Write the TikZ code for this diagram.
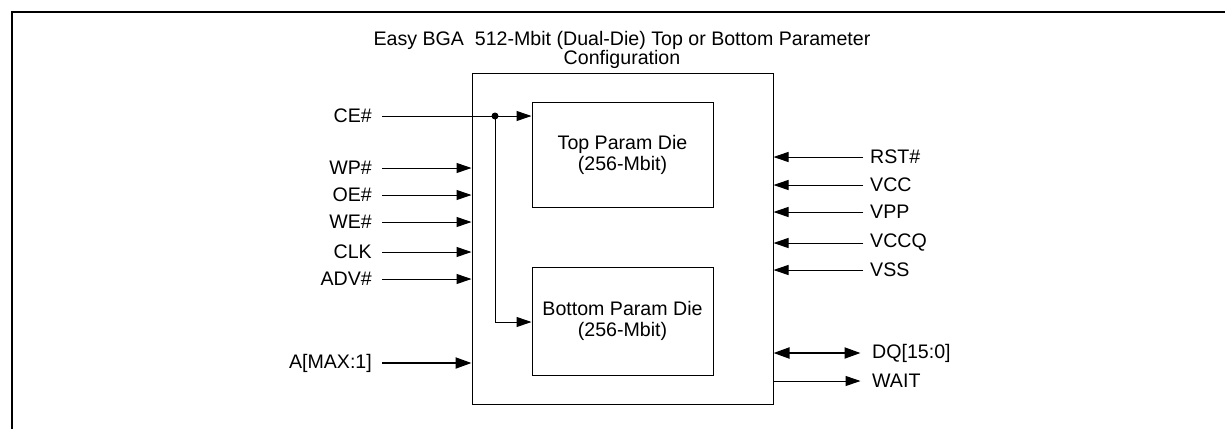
\documentclass[tikz,border=0pt]{standalone}
\usepackage{fontspec}
\setmainfont{Liberation Sans}
\usetikzlibrary{arrows.meta}
\begin{document}
\begin{tikzpicture}[x=1pt,y=-1pt,
  lbl/.style={font=\fontsize{19.6}{19}\selectfont, inner sep=0pt},
  box/.style={draw, line width=1pt, inner sep=0pt},
  sig/.style={line width=1pt, -{Triangle[length=15pt,width=10pt]}},
  bus/.style={line width=2pt, -{Triangle[length=16pt,width=11pt]}},
  bibus/.style={line width=2pt, {Triangle[length=16pt,width=11pt]}-{Triangle[length=16pt,width=11pt]}}]
\useasboundingbox (0,0) rectangle (1225,429);
% frame
\draw[line width=2pt] (12,429) -- (12,12) -- (1225,12);
% title
\node[lbl, align=center] (title) at (622,50) {Easy BGA\ \ 512-Mbit (Dual-Die) Top or Bottom Parameter\\Configuration};
% outer package box
\node[box, minimum width=301pt, minimum height=331pt] (pkg) at (622.5,238.5) {};
% dies
\node[box, minimum width=181pt, minimum height=105pt, align=center, font=\fontsize{19.6}{21}\selectfont] (top) at (622.5,154.5) {Top Param Die\\(256-Mbit)};
\node[box, minimum width=181pt, minimum height=108pt, align=center, font=\fontsize{19.6}{21}\selectfont] (bot) at (622.5,321) {Bottom Param Die\\(256-Mbit)};
% CE#
\node[lbl, anchor=east] (ce) at (372,116) {CE\#};
\coordinate (dot) at (495,116);
\coordinate (bend) at (495,322);
\draw[line width=1pt] (ce.east) ++(10,0) coordinate (ces) -- (dot);
\draw[sig] (dot) -- (top.west |- dot);
\draw[sig] (dot) -- (bend) -- (bot.west |- bend);
\fill (dot) circle (3.5pt);
% left inputs
\foreach \n/\t/\y in {wp/WP\#/168, oe/OE\#/195, we/WE\#/222, clk/CLK/252, adv/ADV\#/279}{
  \node[lbl, anchor=east] (\n) at (372,\y) {\t};
  \draw[sig] (\n.east) ++(10,0) -- (pkg.west |- \n.east);
}
\node[lbl, anchor=east] (addr) at (372,363) {A[MAX:1]};
\draw[bus] (addr.east) ++(10,0) -- (pkg.west |- addr.east);
% right inputs
\foreach \n/\t/\y in {rst/RST\#/157, vcc/VCC/185, vpp/VPP/212, vccq/VCCQ/243, vss/VSS/270}{
  \node[lbl, anchor=west] (\n) at (870,\y) {\t};
  \draw[sig] (\n.west) ++(-7,0) -- (pkg.east |- \n.west);
}
\node[lbl, anchor=west] (dq) at (872,353) {DQ[15:0]};
\draw[bibus] (pkg.east |- dq.west) -- ++(87,0) coordinate (dqe);
\node[lbl, anchor=west] (wait) at (872,381) {WAIT};
\draw[sig] (pkg.east |- wait.west) -- ++(87,0) coordinate (waite);
\end{tikzpicture}
\end{document}
